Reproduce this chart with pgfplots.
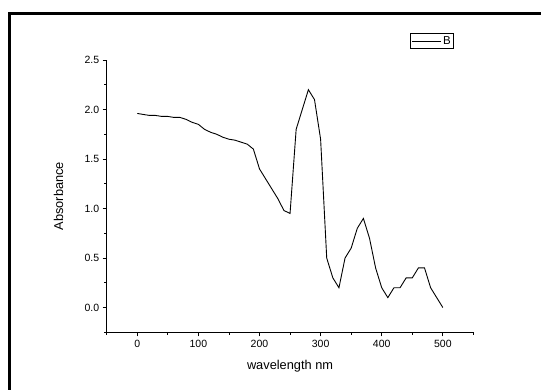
\documentclass[border=0pt]{standalone}
\usepackage{fontspec}
\setmainfont{Liberation Sans}
\usepackage{pgfplots}
\pgfplotsset{compat=1.18}
\begin{document}
\begin{tikzpicture}[x=1pt,y=1pt]
\useasboundingbox (0,0) rectangle (541,390);
\draw[line width=3pt, line join=miter] (9.5,0) -- (9.5,376.5) -- (541,376.5);
\begin{axis}[
  at={(106.7pt,57.7pt)}, anchor=south west,
  scale only axis, width=366.7pt, height=272.3pt,
  xmin=-50, xmax=550, ymin=-0.25, ymax=2.5,
  axis lines*=left,
  axis line style={line width=0.8pt},
  tick align=outside,
  major tick length=4pt, minor tick length=2.5pt,
  tick style={line width=0.8pt, black},
  xtick={0,100,...,500},
  minor xtick={-50,50,150,250,350,450,550},
  ytick={0,0.5,1,1.5,2,2.5},
  minor ytick={-0.25,0.25,0.75,1.25,1.75,2.25},
  /pgf/number format/assume math mode=true,
  yticklabel style={/pgf/number format/fixed, /pgf/number format/fixed zerofill, /pgf/number format/precision=1},
  ticklabel style={font=\fontsize{10.5}{12}\selectfont},
  label style={font=\fontsize{12.8}{15}\selectfont},
  xlabel={wavelength nm},
  ylabel={Absorbance},
  xlabel style={at={(axis description cs:0.5,-0.1227)}, anchor=center},
  ylabel style={at={(axis description cs:-0.131,0.5)}, anchor=center},
  legend style={at={(axis description cs:0.827,1.099)}, anchor=north west,
    draw=black, line width=0.8pt, inner sep=1pt, font=\fontsize{11.5}{13}\selectfont,
    legend cell align=left},
  legend image code/.code={\draw[#1, line width=0.8pt] (0pt,0pt) -- (29pt,0pt);},
]
\addplot[black, line width=0.9pt] coordinates {
(0,1.96)(10,1.95)(20,1.94)(30,1.94)(40,1.93)(50,1.93)(60,1.92)(70,1.92)(80,1.90)(90,1.87)
(100,1.85)(110,1.80)(120,1.77)(130,1.75)(140,1.72)(150,1.70)(160,1.69)(170,1.67)(180,1.65)(190,1.60)
(200,1.40)(210,1.30)(220,1.20)(230,1.10)(240,0.98)(250,0.95)(260,1.80)(270,2.00)(280,2.20)(290,2.10)
(300,1.70)(310,0.50)(320,0.30)(330,0.20)(340,0.50)(350,0.60)(360,0.80)(370,0.90)(380,0.70)(390,0.40)
(400,0.20)(410,0.10)(420,0.20)(430,0.20)(440,0.30)(450,0.30)(460,0.40)(470,0.40)(480,0.20)(490,0.10)
(500,0.00)
};
\addlegendentry{B}
\end{axis}
\end{tikzpicture}
\end{document}
